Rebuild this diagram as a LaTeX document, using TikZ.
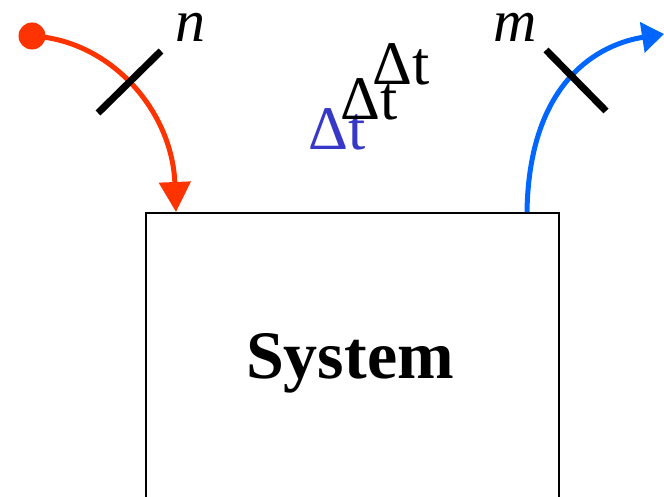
\documentclass[tikz,border=0pt]{standalone}
\usepackage{fontspec}
\setmainfont{Liberation Serif}
\usetikzlibrary{arrows.meta}
\definecolor{redarr}{RGB}{255,51,0}
\definecolor{bluearr}{RGB}{0,102,255}
\definecolor{dtblue}{RGB}{56,56,200}
\begin{document}
\begin{tikzpicture}[x=1pt,y=-1pt,
  tickmark/.style={line width=7pt, black},
  flow/.style={line width=5pt},
  lbl/.style={inner sep=0pt, anchor=base west},
  dtlbl/.style={lbl, font=\fontsize{62}{62}\selectfont},
  varlbl/.style={lbl, font=\fontsize{60}{60}\selectfont\itshape}]
\useasboundingbox (0,0) rectangle (664,497);
\clip (0,0) rectangle (664,497);
% system box
\node[draw, line width=2pt, minimum width=413pt, minimum height=290pt,
      anchor=north west, inner sep=0pt] (box) at (145,212) {};
\node[inner sep=0pt, anchor=base, font=\fontsize{68}{68}\selectfont\bfseries] (sys) at (350,378) {System};
% input arrow
\node[circle, fill=redarr, minimum size=27pt, inner sep=0pt] (dot) at (32,36) {};
\coordinate (in) at (176,212);
\draw[flow, redarr, -{Triangle[length=30pt,width=31pt]}]
  (dot.center) .. controls (110,40) and (172,110) .. (in);
% output arrow
\coordinate (out) at (527,212);
\coordinate (outend) at (664,34);
\draw[flow, bluearr, -{Triangle[length=22pt,width=30pt]}]
  (out) .. controls (529,80) and (600,44) .. (outend);
% ticks
\draw[tickmark] (98,113) -- (161,51);
\draw[tickmark] (546,50) -- (606,111);
% labels
\node[varlbl] (n) at (175,42) {n};
\node[varlbl] (m) at (493,42) {m};
\node[dtlbl, text=dtblue] (dt1) at (308,150) {Δt};
\node[dtlbl] (dt2) at (340,120) {Δt};
\node[dtlbl] (dt3) at (372,85) {Δt};
\end{tikzpicture}
\end{document}
